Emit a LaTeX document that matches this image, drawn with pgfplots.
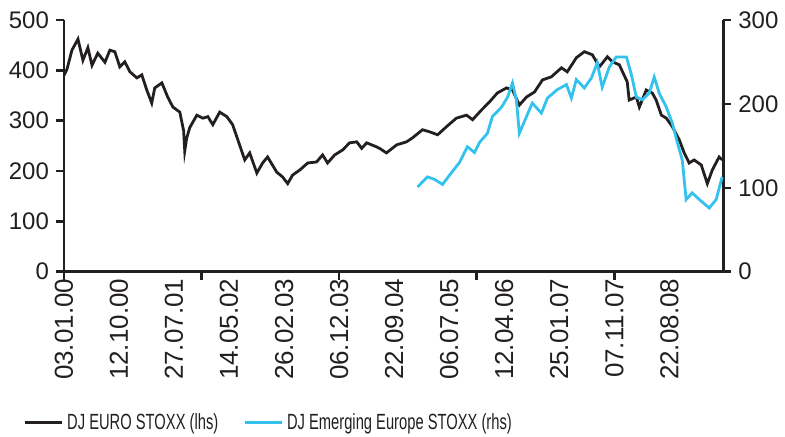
\documentclass[border=0pt]{standalone}
\usepackage{fontspec}
\setmainfont{Liberation Sans}
\newfontfamily\legfont[FakeStretch=0.67]{Liberation Sans}
\usepackage{pgfplots}
\pgfplotsset{compat=1.18}
\definecolor{ink}{HTML}{231F20}
\definecolor{sky}{HTML}{33C2EE}
\begin{document}
\begin{tikzpicture}
\path (-32pt,-80pt) rectangle (360.5pt,136pt);
\pgfplotsset{
  common/.style={
    width=330pt, height=126pt, scale only axis,
    xmin=0, xmax=2396,
    axis line style={ink, line width=1.25pt, -},
    every tick/.style={ink, line width=1.25pt},
    tick align=outside, major tick length=4pt,
    ticklabel style={font=\fontsize{12}{14}\selectfont, text=ink},
    /pgf/number format/assume math mode=true,
  }
}
\begin{axis}[common,
  ymin=0, ymax=500,
  axis x line*=bottom, axis y line*=left,
  xtick={0,500,1000,1500,2000}, xticklabels={},
  extra x ticks={0,200,400,600,800,1000,1200,1400,1600,1800,2000,2200},
  extra x tick labels={03.01.00,12.10.00,27.07.01,14.05.02,26.02.03,06.12.03,22.09.04,06.07.05,12.04.06,25.01.07,07.11.07,22.08.08},
  extra x tick style={major tick length=0pt, xticklabel style={rotate=90, anchor=east, font=\fontsize{13}{15}\selectfont}},
  ytick={0,100,200,300,400,500},
]
\addplot[ink, line width=1.4pt] coordinates {
(0,390) (11,402) (29,440) (51,462) (69,420) (87,445) (102,410) (123,434) (149,416) (167,440) (185,437) (203,407) (221,417) (240,397) (265,385) (283,391) (301,361) (319,335) (330,365) (356,375) (377,347) (396,327) (421,317) (435,280) (439,240) (446,265) (457,286) (483,311) (505,305) (523,308) (541,292) (566,317) (592,308) (613,292) (632,262) (657,222) (675,236) (701,196) (722,216) (740,228) (773,198) (795,188) (813,175) (831,192) (857,202) (886,216) (918,218) (940,232) (958,216) (984,232) (1013,242) (1038,256) (1064,258) (1082,245) (1100,256) (1136,248) (1150,244) (1172,236) (1209,252) (1245,258) (1267,266) (1303,282) (1328,278) (1358,272) (1390,288) (1426,305) (1463,311) (1485,302) (1517,321) (1546,337) (1575,355) (1608,365) (1630,361) (1655,331) (1681,347) (1710,357) (1739,381) (1771,387) (1808,405) (1829,397) (1862,425) (1891,437) (1920,431) (1946,407) (1975,427) (1993,417) (2018,411) (2047,377) (2054,341) (2080,347) (2091,327) (2116,361) (2138,355) (2152,341) (2171,311) (2189,305) (2211,288) (2236,262) (2254,236) (2272,216) (2290,222) (2316,212) (2338,175) (2356,202) (2381,228) (2392,222)
};
\end{axis}
\begin{axis}[common,
  ymin=0, ymax=300,
  axis x line=none, axis y line*=right,
  ytick={0,100,200,300},
  legend columns=2,
  legend image code/.code={\draw[#1] (0pt,0pt) -- (18.5pt,0pt);},
  legend style={draw=none, fill=none, at={(-0.062,-0.60)}, anchor=west,
    inner sep=0pt, font=\legfont\fontsize{11}{13}\selectfont, text=ink,
    cells={anchor=west},
    /tikz/every even column/.append style={column sep=10.5pt}},
]
\addlegendimage{ink, line width=1.4pt}
\addlegendentry{DJ EURO STOXX (lhs)}
\addplot[sky, line width=1.4pt] coordinates {
(1285,101) (1321,113) (1347,110) (1376,104) (1401,115) (1437,130) (1466,149) (1492,142) (1510,154) (1539,165) (1557,185) (1590,196) (1612,208) (1630,225) (1644,205) (1655,165) (1681,185) (1702,201) (1735,189) (1757,207) (1793,217) (1826,223) (1844,207) (1862,229) (1891,219) (1917,231) (1938,249) (1956,220) (1982,244) (2007,256) (2044,256) (2062,235) (2080,208) (2102,205) (2127,213) (2145,232) (2163,213) (2189,196) (2211,177) (2229,154) (2247,133) (2261,86) (2283,94) (2309,86) (2345,76) (2370,86) (2392,113)
};
\addlegendentry{DJ Emerging Europe STOXX (rhs)}
\end{axis}
\end{tikzpicture}
\end{document}
